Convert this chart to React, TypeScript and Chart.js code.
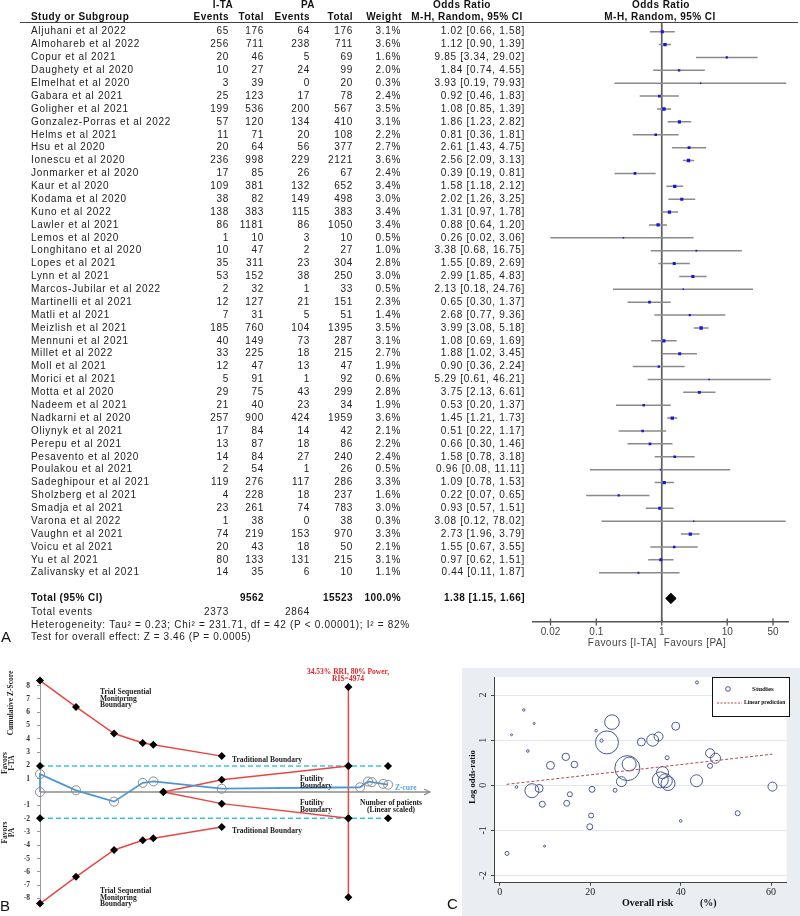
import React, { useEffect, useRef } from "react";
import { Chart, registerables } from "chart.js";
Chart.register(...registerables);

// ---------------- Panel A data (forest plot) ----------------
const studies = [
  "Aljuhani et al 2022", "Almohareb et al 2022", "Copur et al 2021", "Daughety et al 2020",
  "Elmelhat et al 2020", "Gabara et al 2021", "Goligher et al 2021", "Gonzalez-Porras et al 2022",
  "Helms et al 2021", "Hsu et al 2020", "Ionescu et al 2020", "Jonmarker et al 2020",
  "Kaur et al 2020", "Kodama et al 2020", "Kuno et al 2022", "Lawler et al 2021",
  "Lemos et al 2020", "Longhitano et al 2020", "Lopes et al 2021", "Lynn et al 2021",
  "Marcos-Jubilar et al 2022", "Martinelli et al 2021", "Matli et al 2021", "Meizlish et al 2021",
  "Mennuni et al 2021", "Millet et al 2022", "Moll et al 2021", "Morici et al 2021",
  "Motta et al 2020", "Nadeem et al 2021", "Nadkarni et al 2020", "Oliynyk et al 2021",
  "Perepu et al 2021", "Pesavento et al 2020", "Poulakou et al 2021", "Sadeghipour et al 2021",
  "Sholzberg et al 2021", "Smadja et al 2021", "Varona et al 2022", "Vaughn et al 2021",
  "Voicu et al 2021", "Yu et al 2021", "Zalivansky et al 2021",
];
const itaEvents = [65, 256, 20, 10, 3, 25, 199, 57, 11, 20, 236, 17, 109, 38, 138, 86, 1, 10, 35, 53, 2, 12, 7, 185, 40, 33, 12, 5, 29, 21, 257, 17, 13, 14, 2, 119, 4, 23, 1, 74, 20, 80, 14];
const itaTotal = [176, 711, 46, 27, 39, 123, 536, 120, 71, 64, 998, 85, 381, 82, 383, 1181, 10, 47, 311, 152, 32, 127, 31, 760, 149, 225, 47, 91, 75, 40, 900, 84, 87, 84, 54, 276, 228, 261, 38, 219, 43, 133, 35];
const paEvents = [64, 238, 5, 24, 0, 17, 200, 134, 20, 56, 229, 26, 132, 149, 115, 86, 3, 2, 23, 38, 1, 21, 5, 104, 73, 18, 13, 1, 43, 23, 424, 14, 18, 27, 1, 117, 18, 74, 0, 153, 18, 131, 6];
const paTotal = [176, 711, 69, 99, 20, 78, 567, 410, 108, 377, 2121, 67, 652, 498, 383, 1050, 10, 27, 304, 250, 33, 151, 51, 1395, 287, 215, 47, 92, 299, 34, 1959, 42, 86, 240, 26, 286, 237, 783, 38, 970, 50, 215, 10];
const weightPct = [3.1, 3.6, 1.6, 2.0, 0.3, 2.4, 3.5, 3.1, 2.2, 2.7, 3.6, 2.4, 3.4, 3.0, 3.4, 3.4, 0.5, 1.0, 2.8, 3.0, 0.5, 2.3, 1.4, 3.5, 3.1, 2.7, 1.9, 0.6, 2.8, 1.9, 3.6, 2.1, 2.2, 2.4, 0.5, 3.3, 1.6, 3.0, 0.3, 3.3, 2.1, 3.1, 1.1];
const oddsRatio = [1.02, 1.12, 9.85, 1.84, 3.93, 0.92, 1.08, 1.86, 0.81, 2.61, 2.56, 0.39, 1.58, 2.02, 1.31, 0.88, 0.26, 3.38, 1.55, 2.99, 2.13, 0.65, 2.68, 3.99, 1.08, 1.88, 0.90, 5.29, 3.75, 0.53, 1.45, 0.51, 0.66, 1.58, 0.96, 1.09, 0.22, 0.93, 3.08, 2.73, 1.55, 0.97, 0.44];
const ciLower = [0.66, 0.90, 3.34, 0.74, 0.19, 0.46, 0.85, 1.23, 0.36, 1.43, 2.09, 0.19, 1.18, 1.26, 0.97, 0.64, 0.02, 0.68, 0.89, 1.85, 0.18, 0.30, 0.77, 3.08, 0.69, 1.02, 0.36, 0.61, 2.13, 0.20, 1.21, 0.22, 0.30, 0.78, 0.08, 0.78, 0.07, 0.57, 0.12, 1.96, 0.67, 0.62, 0.11];
const ciUpper = [1.58, 1.39, 29.02, 4.55, 79.93, 1.83, 1.39, 2.82, 1.81, 4.75, 3.13, 0.81, 2.12, 3.25, 1.78, 1.20, 3.06, 16.75, 2.69, 4.83, 24.76, 1.37, 9.36, 5.18, 1.69, 3.45, 2.24, 46.21, 6.61, 1.37, 1.73, 1.17, 1.46, 3.18, 11.11, 1.53, 0.65, 1.51, 78.02, 3.79, 3.55, 1.51, 1.87];
const pooledOR = 1.38;
const pooledLo = 1.15;
const pooledHi = 1.66;
const totalIta = 9562;
const totalPa = 15523;
const eventsIta = 2373;
const eventsPa = 2864;
const forestTicks = [0.02, 0.1, 1, 10, 50];
const forestTickLabels = ["0.02", "0.1", "1", "10", "50"];
const heterogeneityText = "Heterogeneity: Tau\u00B2 = 0.23; Chi\u00B2 = 231.71, df = 42 (P < 0.00001); I\u00B2 = 82%";
const overallText = "Test for overall effect: Z = 3.46 (P = 0.0005)";

// ---------------- Panel B data (TSA) ----------------
const tsmbX = [0, 581, 1194, 1657, 1828, 2931];
const tsmbUpper = [8.38, 6.4, 4.4, 3.68, 3.55, 2.7];
const tsmbLower = [-8.38, -6.37, -4.35, -3.62, -3.48, -2.62];
const tradX = [0, 4974, 5614];
const tradUpper = [1.96, 1.96, 1.96];
const tradLower = [-1.96, -1.96, -1.96];
const futX = [1989, 2931, 4974];
const futUpper = [0, 0.92, 1.96];
const futLower = [0, -0.87, -1.96];
const risX = [4974, 4974];
const risY = [7.9, -7.9];
const zCurveX = [0, 0, 581, 1194, 1657, 1828, 2931, 5162, 5291, 5355, 5533, 5614];
const zCurveY = [0, 1.35, 0.13, -0.72, 0.69, 0.8, 0.25, 0.36, 0.79, 0.74, 0.62, 0.55];
const zAxisX = [0, 6290];
const zTicks = [8, 7, 6, 5, 4, 3, 2, 1, -1, -2, -3, -4, -5, -6, -7, -8];

// ---------------- Panel C data (bubble meta-regression) ----------------
const riskX = [43.6, 5.3, 2.6, 7.6, 6.2, 3.7, 1.6, 9.9, 7.1, 8.7, 9.4, 11.2, 14.6, 14.8, 15.5, 16.5, 21.3, 22.5, 23.7, 24.8, 20.4, 20.2, 19.9, 25.5, 26.9, 28.2, 28.6, 31.3, 33.8, 35.1, 37.0, 38.9, 36.0, 35.5, 36.6, 37.2, 43.5, 40.0, 46.5, 47.7, 46.5, 52.6, 60.3];
const logOR = [2.28, 1.67, 1.12, 1.37, 0.76, -0.04, -1.51, -1.35, -0.12, -0.07, -0.42, 0.44, 0.63, -0.4, -0.2, 0.46, 1.21, 0.99, 0.95, 1.4, -0.09, -0.67, -0.92, -0.11, 0.08, 0.38, 0.47, 0.96, 1.0, 1.08, 0.61, 1.31, 0.28, 0.12, 0.1, 0.04, 0.1, -0.79, 0.71, 0.6, 0.43, -0.62, -0.03];
const bubbleSize = [1.5, 1.2, 1, 1, 1.3, 1.3, 2, 1, 7, 4, 3, 4, 3.7, 3, 2.5, 3.3, 1.3, 1.6, 11.5, 7.3, 3, 2.5, 3, 2, 5, 12.5, 7, 4, 6, 4.5, 2, 4, 6, 8, 7, 7, 6, 1.3, 4.5, 5, 2.5, 2.5, 4.5];
const regX = [1.5, 60.3];
const regY = [0.02, 0.69];
const cTicksX = [0, 20, 40, 60];
const cTicksY = [-2, -1, 0, 1, 2];

const SANS = '"Liberation Sans", Arial, sans-serif';
const SERIF = '"Liberation Serif", "Times New Roman", serif';

function drawText(ctx: CanvasRenderingContext2D, s: string, x: number, y: number, align: CanvasTextAlign, font: string, color = "#222", ls = "0px") {
  ctx.font = font;
  ctx.fillStyle = color;
  ctx.textAlign = align;
  ctx.textBaseline = "middle";
  (ctx as any).letterSpacing = ls;
  ctx.fillText(s, x, y);
  (ctx as any).letterSpacing = "0px";
}

function drawRot(ctx: CanvasRenderingContext2D, s: string, x: number, y: number, font: string, color = "#222") {
  ctx.save();
  ctx.translate(x, y);
  ctx.rotate(-Math.PI / 2);
  drawText(ctx, s, 0, 0, "center", font, color);
  ctx.restore();
}

const forestTablePlugin = {
  id: "forestTable",
  afterDraw(chart: any) {
    const ctx: CanvasRenderingContext2D = chart.ctx;
    const ys = chart.scales.y;
    const xs = chart.scales.x;
    const reg = `10px ${SANS}`;
    const bold = `bold 10px ${SANS}`;
    const LS = "0.7px";
    const BLS = "0.45px";
    ctx.save();
    // headers
    drawText(ctx, "I-TA", 223, 5, "center", bold, "#111", BLS);
    drawText(ctx, "PA", 308, 5, "center", bold, "#111", BLS);
    drawText(ctx, "Odds Ratio", 462, 5, "center", bold, "#111", BLS);
    drawText(ctx, "Odds Ratio", 661, 5, "center", bold, "#111", BLS);
    drawText(ctx, "Study or Subgroup", 31, 17, "left", bold, "#111", BLS);
    drawText(ctx, "Events", 229, 17, "right", bold, "#111", BLS);
    drawText(ctx, "Total", 264, 17, "right", bold, "#111", BLS);
    drawText(ctx, "Events", 310, 17, "right", bold, "#111", BLS);
    drawText(ctx, "Total", 353, 17, "right", bold, "#111", BLS);
    drawText(ctx, "Weight", 402, 17, "right", bold, "#111", BLS);
    drawText(ctx, "M-H, Random, 95% CI", 467, 17, "center", bold, "#111", BLS);
    drawText(ctx, "M-H, Random, 95% CI", 660, 17, "center", bold, "#111", BLS);
    ctx.strokeStyle = "#444";
    ctx.lineWidth = 1;
    ctx.beginPath();
    ctx.moveTo(20, 22.5);
    ctx.lineTo(798, 22.5);
    ctx.stroke();
    // rows
    studies.forEach((name, i) => {
      const y = ys.getPixelForValue(i);
      drawText(ctx, name, 31, y, "left", reg, "#222", LS);
      drawText(ctx, String(itaEvents[i]), 229, y, "right", reg, "#222", LS);
      drawText(ctx, String(itaTotal[i]), 264, y, "right", reg, "#222", LS);
      drawText(ctx, String(paEvents[i]), 310, y, "right", reg, "#222", LS);
      drawText(ctx, String(paTotal[i]), 353, y, "right", reg, "#222", LS);
      drawText(ctx, weightPct[i].toFixed(1) + "%", 401, y, "right", reg, "#222", LS);
      drawText(ctx, `${oddsRatio[i].toFixed(2)} [${ciLower[i].toFixed(2)}, ${ciUpper[i].toFixed(2)}]`, 525, y, "right", reg, "#222", LS);
    });
    const yT = ys.getPixelForValue(44);
    drawText(ctx, "Total (95% CI)", 31, yT, "left", bold, "#111", BLS);
    drawText(ctx, String(totalIta), 264, yT, "right", bold, "#111", BLS);
    drawText(ctx, String(totalPa), 353, yT, "right", bold, "#111", BLS);
    drawText(ctx, "100.0%", 401, yT, "right", bold, "#111", BLS);
    drawText(ctx, `${pooledOR.toFixed(2)} [${pooledLo.toFixed(2)}, ${pooledHi.toFixed(2)}]`, 525, yT, "right", bold, "#111", BLS);
    const yE = ys.getPixelForValue(45.05);
    drawText(ctx, "Total events", 31, yE, "left", reg, "#222", LS);
    drawText(ctx, String(eventsIta), 229, yE, "right", reg, "#222", LS);
    drawText(ctx, String(eventsPa), 310, yE, "right", reg, "#222", LS);
    drawText(ctx, heterogeneityText, 31, ys.getPixelForValue(46.05), "left", reg, "#222", "0.7px");
    drawText(ctx, overallText, 31, ys.getPixelForValue(47.05), "left", reg, "#222", "0.6px");
    drawText(ctx, "A", 1, 638, "left", `15px ${SANS}`, "#111");
    // axis tick marks crossing the axis line
    const bottom = chart.chartArea.bottom;
    ctx.strokeStyle = "#555";
    ctx.lineWidth = 1.3;
    forestTicks.forEach((v) => {
      const px = xs.getPixelForValue(v);
      ctx.beginPath();
      ctx.moveTo(px, bottom - 3.5);
      ctx.lineTo(px, bottom + 3.5);
      ctx.stroke();
    });
    const x1 = xs.getPixelForValue(1);
    drawText(ctx, "Favours [I-TA]", x1 - 5, 643, "right", reg, "#444", "0.45px");
    drawText(ctx, "Favours [PA]", x1 + 2, 643, "left", reg, "#444", "0.45px");
    ctx.restore();
  },
};

function makeForest(canvas: HTMLCanvasElement) {
  const ciData: any[] = [];
  studies.forEach((_, i) => {
    ciData.push({ x: ciLower[i], y: i }, { x: ciUpper[i], y: i }, { x: ciUpper[i], y: null });
  });
  const diamond = [
    { x: pooledLo, y: 44 },
    { x: pooledOR, y: 43.6 },
    { x: pooledHi, y: 44 },
    { x: pooledOR, y: 44.4 },
    { x: pooledLo, y: 44 },
  ];
  return new Chart(canvas, {
    type: "scatter",
    data: {
      datasets: [
        { data: diamond, showLine: true, fill: "shape", backgroundColor: "#000", borderColor: "#000", borderWidth: 1, pointRadius: 0, order: 0 } as any,
        {
          data: studies.map((_, i) => ({ x: oddsRatio[i], y: i })),
          pointStyle: "rect",
          pointRadius: (c: any) => 0.9 + weightPct[c.dataIndex] * 0.42,
          backgroundColor: "#1414e6",
          borderColor: "#1414e6",
          borderWidth: 0,
          order: 1,
        } as any,
        { data: ciData, showLine: true, spanGaps: false, borderColor: "#8a8a8a", borderWidth: 1.5, pointRadius: 0, order: 2 } as any,
        { data: [{ x: 1, y: -0.7 }, { x: 1, y: 45.83 }], showLine: true, borderColor: "#5c5c5c", borderWidth: 1.7, pointRadius: 0, order: 3 } as any,
      ],
    },
    options: {
      responsive: false,
      animation: false,
      events: [],
      layout: { padding: { left: 533, right: 12, top: 22.7, bottom: 0 } },
      plugins: { legend: { display: false }, tooltip: { enabled: false } },
      scales: {
        x: {
          type: "logarithmic",
          min: 0.0108,
          max: 84.8,
          afterFit: (s: any) => { s.height = 38; },
          afterBuildTicks: (s: any) => { s.ticks = forestTicks.map((v) => ({ value: v })); },
          ticks: {
            autoSkip: false,
            maxRotation: 0,
            padding: 4,
            color: "#444",
            font: { family: SANS, size: 10 },
            callback: (_v: any, i: number) => forestTickLabels[i],
          },
          grid: { display: false, drawTicks: false },
          border: { display: true, color: "#555", width: 1.5 },
        },
        y: { type: "linear", reverse: true, min: -0.7, max: 45.83, display: false },
      },
    } as any,
    plugins: [forestTablePlugin],
  });
}

const tsaTextPlugin = {
  id: "tsaText",
  afterDraw(chart: any) {
    const ctx: CanvasRenderingContext2D = chart.ctx;
    const xs = chart.scales.x;
    const ys = chart.scales.y;
    const f = `bold 7.5px ${SERIF}`;
    ctx.save();
    // arrow head on x axis
    const ax = xs.getPixelForValue(zAxisX[1]);
    const ay = ys.getPixelForValue(0);
    ctx.strokeStyle = "#8c8c8c";
    ctx.lineWidth = 1.2;
    ctx.beginPath();
    ctx.moveTo(ax - 6, ay - 3);
    ctx.lineTo(ax, ay);
    ctx.lineTo(ax - 6, ay + 3);
    ctx.stroke();
    const lines = (arr: string[], x: number, y: number, align: CanvasTextAlign, color = "#222") =>
      arr.forEach((s, k) => drawText(ctx, s, x, y + k * 6.6, align, f, color));
    lines(["Trial Sequential", "Monitoring", "Boundary"], 100, 32, "left");
    lines(["Trial Sequential", "Monitoring", "Boundary"], 100, 231, "left");
    drawText(ctx, "Traditional Boundary", 232, 100.5, "left", f);
    drawText(ctx, "Traditional Boundary", 232, 171, "left", f);
    lines(["Futility", "Boundary"], 300, 119, "left");
    lines(["Futility", "Boundary"], 300, 143, "left");
    lines(["Number of patients", "(Linear scaled)"], 391, 143, "center");
    lines(["34.53% RRI, 80% Power,", "RIS=4974"], 348, 12, "center", "#e0242a");
    drawText(ctx, "Z-cure", 395, 127.7, "left", f, "#5aa6e2");
    drawRot(ctx, "Cumulative Z-Score", 11, 43, `bold 7.5px ${SERIF}`);
    drawRot(ctx, "Favors", 5, 103, f);
    drawRot(ctx, "I-TA", 12, 103, f);
    drawRot(ctx, "Favors", 5, 172.5, f);
    drawRot(ctx, "PA", 12, 172.5, f);
    drawText(ctx, "B", 0, 247, "left", `15px ${SANS}`, "#111");
    ctx.restore();
  },
};

function pts(xs: number[], ys: number[]) {
  return xs.map((x, i) => ({ x, y: ys[i] }));
}

function makeTSA(canvas: HTMLCanvasElement) {
  const red = "#e8473f";
  const cyan = "#3cc6d6";
  const dia = { pointStyle: "rectRot", pointRadius: 4, pointBackgroundColor: "#000", pointBorderColor: "#000", pointBorderWidth: 0, clip: false, showLine: true };
  return new Chart(canvas, {
    type: "scatter",
    data: {
      datasets: [
        { data: pts(zCurveX, zCurveY), showLine: true, borderColor: "#4a98d8", borderWidth: 1.8, pointStyle: "circle", pointRadius: 4.5, pointBackgroundColor: "rgba(0,0,0,0)", pointBorderColor: "#8c8c8c", pointBorderWidth: 1, clip: false, order: 1 } as any,
        { data: pts(tsmbX, tsmbUpper), borderColor: red, borderWidth: 1.5, ...dia, order: 2 } as any,
        { data: pts(tsmbX, tsmbLower), borderColor: red, borderWidth: 1.5, ...dia, order: 2 } as any,
        { data: pts(futX, futUpper), borderColor: red, borderWidth: 1.5, ...dia, order: 2 } as any,
        { data: pts(futX, futLower), borderColor: red, borderWidth: 1.5, ...dia, order: 2 } as any,
        { data: pts(risX, risY), borderColor: red, borderWidth: 1.5, ...dia, order: 2 } as any,
        { data: pts(tradX, tradUpper), borderColor: cyan, borderWidth: 1.5, borderDash: [5, 3], ...dia, order: 3 } as any,
        { data: pts(tradX, tradLower), borderColor: cyan, borderWidth: 1.5, borderDash: [5, 3], ...dia, order: 3 } as any,
        { data: pts(zAxisX, [0, 0]), showLine: true, borderColor: "#8c8c8c", borderWidth: 1.5, pointRadius: 0, order: 10 } as any,
      ],
    },
    options: {
      responsive: false,
      animation: false,
      events: [],
      layout: { padding: { left: 0, right: 32, top: 19.6, bottom: 5.6 } },
      plugins: { legend: { display: false }, tooltip: { enabled: false } },
      scales: {
        x: { type: "linear", min: 0, max: 6290, display: false },
        y: {
          type: "linear",
          min: -8.45,
          max: 8.45,
          afterFit: (s: any) => { s.width = 40; },
          afterBuildTicks: (s: any) => { s.ticks = zTicks.map((v) => ({ value: v })); },
          ticks: { color: "#333", padding: 7, font: { family: SERIF, size: 7.5, weight: "bold" } },
          grid: { drawOnChartArea: false, tickLength: 3, color: "#9a9a9a" },
          border: { color: "#9a9a9a", width: 1 },
        },
      },
    } as any,
    plugins: [tsaTextPlugin],
  });
}

const bubbleDecorPlugin = {
  id: "bubbleDecor",
  beforeDraw(chart: any) {
    const ctx: CanvasRenderingContext2D = chart.ctx;
    const a = chart.chartArea;
    ctx.save();
    ctx.fillStyle = "#eaeef3";
    ctx.fillRect(22, 8, 338, 248);
    ctx.fillStyle = "#ffffff";
    ctx.fillRect(a.left, a.top, a.right - a.left, a.bottom - a.top);
    ctx.restore();
  },
  afterDraw(chart: any) {
    const ctx: CanvasRenderingContext2D = chart.ctx;
    ctx.save();
    // legend
    ctx.fillStyle = "#fff";
    ctx.fillRect(272, 17, 77, 39);
    ctx.strokeStyle = "#111";
    ctx.lineWidth = 1;
    ctx.strokeRect(272.5, 17.5, 77, 39);
    ctx.strokeStyle = "#4a5a94";
    ctx.beginPath();
    ctx.arc(288, 29, 2.3, 0, Math.PI * 2);
    ctx.stroke();
    drawText(ctx, "Studies", 312, 29, "left", `bold 7px ${SERIF}`, "#111");
    ctx.strokeStyle = "#b8474a";
    ctx.setLineDash([2, 1.5]);
    ctx.beginPath();
    ctx.moveTo(277, 43);
    ctx.lineTo(302, 43);
    ctx.stroke();
    ctx.setLineDash([]);
    drawText(ctx, "Linear prediction", 304, 43, "left", `bold 5.5px ${SERIF}`, "#111");
    // axis titles
    drawText(ctx, "Overall risk", 182, 243, "left", `bold 10px ${SERIF}`, "#111");
    drawText(ctx, "(%)", 260, 243, "left", `bold 10px ${SERIF}`, "#111");
    drawRot(ctx, "Log odds-ratio", 33, 117, `bold 8.5px ${SERIF}`, "#111");
    drawText(ctx, "C", 7, 245, "left", `15px ${SANS}`, "#111");
    ctx.restore();
  },
};

function makeBubble(canvas: HTMLCanvasElement) {
  return new Chart(canvas, {
    type: "bubble",
    data: {
      datasets: [
        { type: "line", data: pts(regX, regY), borderColor: "#b8474a", borderWidth: 1, borderDash: [3, 2], pointRadius: 0, order: 0 } as any,
        {
          type: "bubble",
          data: riskX.map((x, i) => ({ x, y: logOR[i], r: bubbleSize[i] })),
          backgroundColor: "rgba(0,0,0,0)",
          borderColor: "#4a5a94",
          borderWidth: 1,
          order: 1,
        } as any,
      ],
    },
    options: {
      responsive: false,
      animation: false,
      events: [],
      layout: { padding: { left: 0, right: 2, top: 17, bottom: 0 } },
      plugins: { legend: { display: false }, tooltip: { enabled: false } },
      scales: {
        x: {
          type: "linear",
          min: -1.28,
          max: 63.4,
          afterFit: (s: any) => { s.height = 33.3; },
          afterBuildTicks: (s: any) => { s.ticks = cTicksX.map((v) => ({ value: v })); },
          ticks: { color: "#222", padding: 1, maxRotation: 0, font: { family: SERIF, size: 10 } },
          grid: { display: true, drawOnChartArea: false, tickLength: 3, color: "#444", tickColor: "#444" },
          border: { color: "#444", width: 1 },
        },
        y: {
          type: "linear",
          min: -2.16,
          max: 2.4,
          afterFit: (s: any) => { s.width = 54; },
          afterBuildTicks: (s: any) => { s.ticks = cTicksY.map((v) => ({ value: v })); },
          ticks: { color: "#222", padding: 3, minRotation: 90, maxRotation: 90, crossAlign: "center", font: { family: SERIF, size: 10 } },
          grid: { color: "#e2e7ee", tickLength: 3, tickColor: "#444" },
          border: { color: "#444", width: 1 },
        },
      },
    } as any,
    plugins: [bubbleDecorPlugin],
  });
}

export default function App() {
  const aRef = useRef<HTMLCanvasElement>(null);
  const bRef = useRef<HTMLCanvasElement>(null);
  const cRef = useRef<HTMLCanvasElement>(null);
  useEffect(() => {
    const charts = [makeForest(aRef.current!), makeTSA(bRef.current!), makeBubble(cRef.current!)];
    return () => charts.forEach((c) => c.destroy());
  }, []);
  return (
    <div style={{ position: "absolute", left: 0, top: 0, width: 800, height: 916, background: "#fff", overflow: "hidden" }}>
      <canvas ref={aRef} width={800} height={660} style={{ position: "absolute", left: 0, top: 0 }} />
      <canvas ref={bRef} width={462} height={256} style={{ position: "absolute", left: 0, top: 660 }} />
      <canvas ref={cRef} width={360} height={256} style={{ position: "absolute", left: 440, top: 660 }} />
    </div>
  );
}
